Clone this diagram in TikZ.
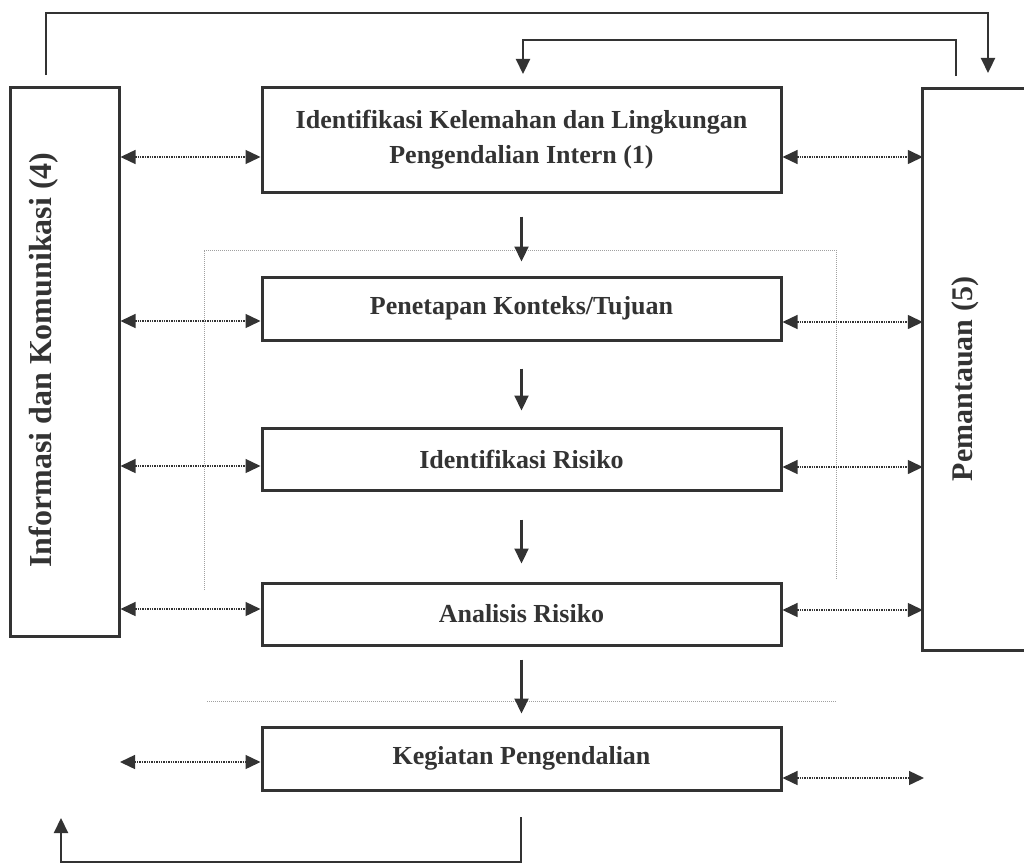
\documentclass[tikz,border=0pt]{standalone}
\usepackage{fontspec}
\setmainfont{Liberation Serif}
\usetikzlibrary{arrows.meta}
\definecolor{ink}{HTML}{333333}
\definecolor{dotc}{HTML}{7A7A7A}
\definecolor{framec}{HTML}{A0A0A0}
\begin{document}
\begin{tikzpicture}[x=1pt,y=-1pt,
  box/.style={draw=ink, line width=3pt, rectangle, inner sep=0pt, align=center,
    text=ink, font=\bfseries\fontsize{26}{35}\selectfont, minimum width=519pt},
  sidetext/.style={rotate=90, text=ink, inner sep=0pt},
  conn/.style={draw=ink, line width=2.2pt},
  tip/.style={-{Triangle[length=15pt,width=14pt]}},
  darr/.style={draw=dotc, line width=1.4pt, densely dotted,
    {Triangle[length=15pt,width=14pt,fill=ink]}-{Triangle[length=15pt,width=14pt,fill=ink]}, ink},
  frame/.style={draw=framec, line width=1pt, densely dotted}]
\useasboundingbox (0,0) rectangle (1024,867);

% main boxes
\node[box, minimum height=105pt] (B1) at (521.5,139.5) {Identifikasi Kelemahan dan Lingkungan\\Pengendalian Intern (1)};
\node[box, minimum height=63pt] (B2) at (521.5,308.5) {Penetapan Konteks/Tujuan};
\node[box, minimum height=62pt] (B3) at (521.5,459) {Identifikasi Risiko};
\node[box, minimum height=62pt] (B4) at (521.5,614) {Analisis Risiko};
\node[box, minimum height=63pt] (B5) at (521.5,758.5) {Kegiatan Pengendalian};

% side boxes
\node[draw=ink, line width=3pt, rectangle, minimum width=109pt, minimum height=549pt, inner sep=0pt] (L) at (64.5,361.5) {};
\node[sidetext, font=\bfseries\fontsize{32}{36}\selectfont] (Ltext) at (44,360) {Informasi dan Komunikasi (4)};
\node[rectangle, minimum width=101pt, minimum height=561pt, inner sep=0pt] (R) at (973.5,369.5) {};
\draw[ink, line width=3pt] (R.north east) -- (R.north west) -- (R.south west) -- (R.south east);
\node[sidetext, font=\bfseries\fontsize{30}{34}\selectfont] (Rtext) at (965,379) {Pemantauan (5)};

% dotted frame
\coordinate (f1) at (204,590);
\coordinate (f2) at (204,250);
\coordinate (f3) at (836,250);
\coordinate (f4) at (836,580);
\draw[frame] (f1) -- (f2) -- (f3) -- (f4);
\coordinate (h1) at (207,701);
\coordinate (h2) at (836,701);
\draw[frame] (h1) -- (h2);

% downward flow arrows
\draw[conn, tip, shorten <=23pt, shorten >=14pt] (B1.south) -- (B2.north);
\draw[conn, tip, shorten <=27pt, shorten >=16pt] (B2.south) -- (B3.north);
\draw[conn, tip, shorten <=28pt, shorten >=18pt] (B3.south) -- (B4.north);
\draw[conn, tip, shorten <=13pt, shorten >=12pt] (B4.south) -- (B5.north);

% top loops
\coordinate (t1) at (46,75);
\coordinate (t2) at (988,73);
\draw[conn, tip] (t1) -- (46,13) -| (t2);
\coordinate (t3) at (956,76);
\coordinate (t4) at (523,74);
\draw[conn, tip] (t3) -- (956,40) -| (t4);

% bottom loop
\coordinate (b1) at (521,817);
\coordinate (b2) at (61,818);
\draw[conn, tip] (b1) -- (521,862) -| (b2);

% dotted bidirectional arrows, left
\coordinate (y1) at (0,157);
\coordinate (y2) at (0,321);
\coordinate (y3) at (0,466);
\coordinate (y4) at (0,609);
\coordinate (y5) at (120,762);
\draw[darr] (L.east |- y1) -- (B1.west |- y1);
\draw[darr] (L.east |- y2) -- (B2.west |- y2);
\draw[darr] (L.east |- y3) -- (B3.west |- y3);
\draw[darr] (L.east |- y4) -- (B4.west |- y4);
\draw[darr] (y5) -- (B5.west |- y5);

% dotted bidirectional arrows, right
\coordinate (z1) at (0,157);
\coordinate (z2) at (0,322);
\coordinate (z3) at (0,467);
\coordinate (z4) at (0,610);
\coordinate (z5) at (924,778);
\draw[darr] (B1.east |- z1) -- (R.west |- z1);
\draw[darr] (B2.east |- z2) -- (R.west |- z2);
\draw[darr] (B3.east |- z3) -- (R.west |- z3);
\draw[darr] (B4.east |- z4) -- (R.west |- z4);
\draw[darr] (B5.east |- z5) -- (z5);
\end{tikzpicture}
\end{document}
